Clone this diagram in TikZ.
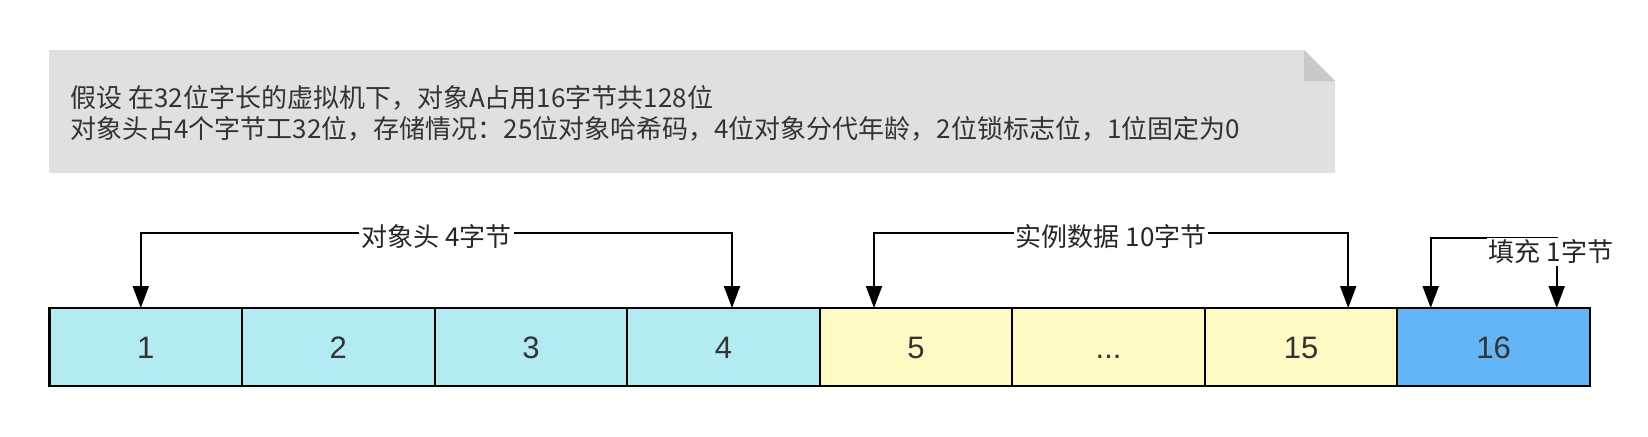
\documentclass[tikz,border=0pt]{standalone}
\usepackage{fontspec}
\setmainfont{Noto Sans CJK SC}
\newfontfamily\numfont{Liberation Sans}
\usetikzlibrary{arrows.meta,calc}
\definecolor{cyanc}{HTML}{B2EBF2}
\definecolor{yellowc}{HTML}{FFF9C4}
\definecolor{bluec}{HTML}{64B5F6}
\definecolor{notec}{HTML}{E0E0E0}
\definecolor{foldc}{HTML}{C8C8C8}
\definecolor{txtc}{HTML}{333333}
\tikzset{
  cell/.style={draw=black, line width=1pt, minimum width=96.28pt, minimum height=39pt,
    inner sep=0pt, outer sep=0pt, text=txtc, text height=11pt, text depth=0pt,
    font=\numfont\fontsize{15.5}{17}\selectfont},
  conn/.style={draw=black, line width=1pt,
    {Triangle[length=11pt,width=8pt]}-{Triangle[length=11pt,width=8pt]}},
  lbl/.style={fill=white, inner sep=1pt, text=black!85, font=\fontsize{13}{15}\selectfont},
  notetext/.style={inner sep=0pt, align=left, text=txtc, font=\fontsize{13}{15.5}\selectfont}
}
\begin{document}
\begin{tikzpicture}[x=0.5pt,y=-0.5pt]
\useasboundingbox[fill=white] (0,0) rectangle (1648,436);
% note
\fill[notec] (49,50) -- (1304,50) -- (1335,81) -- (1335,173) -- (49,173) -- cycle;
\fill[foldc] (1304,50) -- (1304,81) -- (1335,81) -- cycle;
\node[notetext, anchor=west] (note) at (70,113)
  {假设 在32位字长的虚拟机下，对象A占用16字节共128位\\
   对象头占4个字节工32位，存储情况：25位对象哈希码，4位对象分代年龄，2位锁标志位，1位固定为0};
% cells
\node[cell, fill=cyanc]   (b1) at (145.8,347) {1};
\node[cell, fill=cyanc]   (b2) at (338.3,347) {2};
\node[cell, fill=cyanc]   (b3) at (530.9,347) {3};
\node[cell, fill=cyanc]   (b4) at (723.5,347) {4};
\node[cell, fill=yellowc] (b5) at (916.0,347) {5};
\node[cell, fill=yellowc] (b6) at (1108.6,347) {...};
\node[cell, fill=yellowc] (b7) at (1301.2,347) {15};
\node[cell, fill=bluec]   (b8) at (1493.7,347) {16};
\draw[line width=1.3pt] (b1.north west) rectangle (b8.south east);
% header arrow
\coordinate (h1) at ($(b1.north)+(-5,0)$);
\coordinate (h2) at ($(b4.north)+(8.5,0)$);
\draw[conn] (h1) -- (h1 |- 0,233) -- node[lbl, yshift=-2pt] (lh) {对象头 4字节} (h2 |- 0,233) -- (h2);
% data arrow
\coordinate (d1) at ($(b5.north)+(-42,0)$);
\coordinate (d2) at ($(b7.north)+(47,0)$);
\draw[conn] (d1) -- (d1 |- 0,233) -- node[lbl, yshift=-2pt] (ld) {实例数据 10字节} (d2 |- 0,233) -- (d2);
% padding arrow
\coordinate (p1) at ($(b8.north)+(-63,0)$);
\coordinate (p2) at ($(b8.north)+(63,0)$);
\draw[conn] (p1) -- (p1 |- 0,238) -- (p2 |- 0,238) -- (p2);
\node[lbl] (lp) at (1551,252) {填充 1字节};
\end{tikzpicture}
\end{document}
